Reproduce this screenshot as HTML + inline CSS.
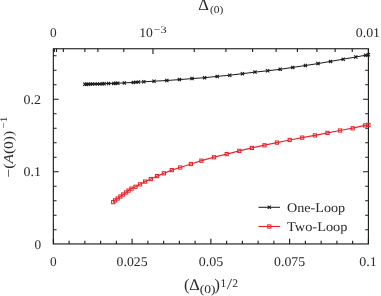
<!DOCTYPE html><html><head><meta charset="utf-8"><style>html,body{margin:0;padding:0;background:#fff}svg{display:block}text{font-family:"Liberation Serif",serif;fill:#2a2a2a;text-rendering:geometricPrecision}</style></head><body>
<svg width="381" height="296" viewBox="0 0 381 296">
<defs><filter id="b" x="0" y="0" width="381" height="296" filterUnits="userSpaceOnUse"><feGaussianBlur stdDeviation="0.35"/></filter></defs>
<rect width="381" height="296" fill="#fff"/>
<g filter="url(#b)">
<g stroke="#1a1a1a" stroke-width="1.1" fill="none">
<rect x="53.35" y="48.75" width="315.05" height="195.20"/>
<path d="M53.35 243.95V238.64999999999998"/>
<path d="M69.10 243.95V240.75"/>
<path d="M84.85 243.95V240.75"/>
<path d="M100.61 243.95V240.75"/>
<path d="M116.36 243.95V240.75"/>
<path d="M132.11 243.95V238.64999999999998"/>
<path d="M147.86 243.95V240.75"/>
<path d="M163.62 243.95V240.75"/>
<path d="M179.37 243.95V240.75"/>
<path d="M195.12 243.95V240.75"/>
<path d="M210.87 243.95V238.64999999999998"/>
<path d="M226.63 243.95V240.75"/>
<path d="M242.38 243.95V240.75"/>
<path d="M258.13 243.95V240.75"/>
<path d="M273.88 243.95V240.75"/>
<path d="M289.64 243.95V238.64999999999998"/>
<path d="M305.39 243.95V240.75"/>
<path d="M321.14 243.95V240.75"/>
<path d="M336.89 243.95V240.75"/>
<path d="M352.65 243.95V240.75"/>
<path d="M368.40 243.95V238.64999999999998"/>
<path d="M53.35 229.80h3.2M368.4 229.80h-3.2"/>
<path d="M53.35 215.30h3.2M368.4 215.30h-3.2"/>
<path d="M53.35 200.80h3.2M368.4 200.80h-3.2"/>
<path d="M53.35 186.30h3.2M368.4 186.30h-3.2"/>
<path d="M53.35 171.80h5.3M368.4 171.80h-5.3"/>
<path d="M53.35 157.30h3.2M368.4 157.30h-3.2"/>
<path d="M53.35 142.80h3.2M368.4 142.80h-3.2"/>
<path d="M53.35 128.30h3.2M368.4 128.30h-3.2"/>
<path d="M53.35 113.80h3.2M368.4 113.80h-3.2"/>
<path d="M53.35 99.30h5.3M368.4 99.30h-5.3"/>
<path d="M53.35 84.80h3.2M368.4 84.80h-3.2"/>
<path d="M53.35 70.30h3.2M368.4 70.30h-3.2"/>
<path d="M53.35 55.80h3.2M368.4 55.80h-3.2"/>
<path d="M54.35 48.75v3.2"/>
<path d="M56.50 48.75v3.2"/>
<path d="M63.31 48.75v3.2"/>
<path d="M84.85 48.75v3.2"/>
<path d="M97.90 48.75v3.2"/>
<path d="M123.80 48.75v3.2"/>
<path d="M152.98 48.75v5.3"/>
<path d="M194.24 48.75v3.2"/>
<path d="M225.91 48.75v3.2"/>
<path d="M252.61 48.75v3.2"/>
<path d="M276.12 48.75v3.2"/>
<path d="M297.39 48.75v3.2"/>
<path d="M316.94 48.75v3.2"/>
<path d="M335.14 48.75v3.2"/>
<path d="M352.23 48.75v3.2"/>
<path d="M368.40 48.75v5.3"/>
</g>
<g stroke="#1a1a1a" stroke-width="1" fill="none">
<polyline points="84.8,84.3 86.5,84.3 88.5,84.2 90.5,84.1 92.6,84.1 94.9,84.0 97.4,83.9 99.9,83.9 102.3,83.8 104.1,83.7 108.6,83.5 113.8,83.4 115.7,83.3 117.8,83.2 124.3,82.9 133.3,82.4 135.9,82.3 138.3,82.1 143.8,81.8 154.0,81.2 166.8,80.5 179.4,79.6 192.0,78.6 204.6,77.7 217.2,76.4 229.8,75.2 242.4,73.7 255.0,72.1 267.6,70.8 280.2,69.3 292.8,67.4 305.4,65.5 318.0,63.6 330.6,61.4 343.2,59.2 355.8,57.0 365.6,55.2 368.4,54.8"/>
<path d="M83.2 82.7l3.2 3.2M83.2 85.9l3.2 -3.2M84.9 82.7l3.2 3.2M84.9 85.9l3.2 -3.2M86.9 82.6l3.2 3.2M86.9 85.8l3.2 -3.2M88.9 82.5l3.2 3.2M88.9 85.7l3.2 -3.2M91.0 82.5l3.2 3.2M91.0 85.7l3.2 -3.2M93.3 82.4l3.2 3.2M93.3 85.6l3.2 -3.2M95.8 82.3l3.2 3.2M95.8 85.5l3.2 -3.2M98.3 82.3l3.2 3.2M98.3 85.5l3.2 -3.2M100.7 82.2l3.2 3.2M100.7 85.4l3.2 -3.2M102.5 82.1l3.2 3.2M102.5 85.3l3.2 -3.2M107.0 81.9l3.2 3.2M107.0 85.1l3.2 -3.2M112.2 81.8l3.2 3.2M112.2 85.0l3.2 -3.2M114.1 81.7l3.2 3.2M114.1 84.9l3.2 -3.2M116.2 81.6l3.2 3.2M116.2 84.8l3.2 -3.2M122.7 81.3l3.2 3.2M122.7 84.5l3.2 -3.2M131.7 80.8l3.2 3.2M131.7 84.0l3.2 -3.2M134.3 80.7l3.2 3.2M134.3 83.9l3.2 -3.2M136.7 80.5l3.2 3.2M136.7 83.7l3.2 -3.2M142.2 80.2l3.2 3.2M142.2 83.4l3.2 -3.2M152.4 79.7l3.2 3.2M152.4 82.8l3.2 -3.2M165.2 78.9l3.2 3.2M165.2 82.1l3.2 -3.2M177.8 78.0l3.2 3.2M177.8 81.2l3.2 -3.2M190.4 77.0l3.2 3.2M190.4 80.2l3.2 -3.2M203.0 76.1l3.2 3.2M203.0 79.3l3.2 -3.2M215.6 74.8l3.2 3.2M215.6 78.0l3.2 -3.2M228.2 73.6l3.2 3.2M228.2 76.8l3.2 -3.2M240.8 72.1l3.2 3.2M240.8 75.3l3.2 -3.2M253.4 70.5l3.2 3.2M253.4 73.7l3.2 -3.2M266.0 69.2l3.2 3.2M266.0 72.4l3.2 -3.2M278.6 67.7l3.2 3.2M278.6 70.9l3.2 -3.2M291.2 65.8l3.2 3.2M291.2 69.0l3.2 -3.2M303.8 63.9l3.2 3.2M303.8 67.1l3.2 -3.2M316.4 62.0l3.2 3.2M316.4 65.2l3.2 -3.2M329.0 59.8l3.2 3.2M329.0 63.0l3.2 -3.2M341.6 57.6l3.2 3.2M341.6 60.8l3.2 -3.2M354.2 55.4l3.2 3.2M354.2 58.6l3.2 -3.2M364.0 53.6l3.2 3.2M364.0 56.8l3.2 -3.2M366.8 53.1l3.2 3.2M366.8 56.4l3.2 -3.2" stroke-width="1.15"/>
</g>
<g stroke="#e8282f" stroke-width="1.2" fill="none">
<polyline points="113.2,202.1 115.1,200.3 117.7,198.5 120.4,196.5 123.1,194.5 126.1,192.5 128.6,190.6 131.5,188.6 135.5,186.8 140.0,184.3 145.1,181.6 150.8,179.0 157.1,176.1 163.9,173.2 171.8,170.1 180.2,167.5 190.9,164.0 201.4,160.7 214.0,157.2 226.7,154.1 239.3,150.9 251.9,147.9 264.5,145.2 277.0,142.6 289.7,140.0 302.2,137.6 314.9,135.3 327.5,132.9 340.0,130.5 352.7,128.2 365.0,125.4 368.4,124.9"/>
<rect x="111.6" y="200.5" width="3.2" height="3.2" stroke-width="1.05"/>
<rect x="113.5" y="198.8" width="3.2" height="3.2" stroke-width="1.05"/>
<rect x="116.1" y="196.9" width="3.2" height="3.2" stroke-width="1.05"/>
<rect x="118.8" y="194.9" width="3.2" height="3.2" stroke-width="1.05"/>
<rect x="121.5" y="192.9" width="3.2" height="3.2" stroke-width="1.05"/>
<rect x="124.5" y="190.9" width="3.2" height="3.2" stroke-width="1.05"/>
<rect x="127.0" y="189.0" width="3.2" height="3.2" stroke-width="1.05"/>
<rect x="129.9" y="187.0" width="3.2" height="3.2" stroke-width="1.05"/>
<rect x="133.9" y="185.2" width="3.2" height="3.2" stroke-width="1.05"/>
<rect x="138.4" y="182.8" width="3.2" height="3.2" stroke-width="1.05"/>
<rect x="143.5" y="180.0" width="3.2" height="3.2" stroke-width="1.05"/>
<rect x="149.2" y="177.4" width="3.2" height="3.2" stroke-width="1.05"/>
<rect x="155.5" y="174.5" width="3.2" height="3.2" stroke-width="1.05"/>
<rect x="162.3" y="171.7" width="3.2" height="3.2" stroke-width="1.05"/>
<rect x="170.2" y="168.5" width="3.2" height="3.2" stroke-width="1.05"/>
<rect x="178.6" y="165.9" width="3.2" height="3.2" stroke-width="1.05"/>
<rect x="189.3" y="162.4" width="3.2" height="3.2" stroke-width="1.05"/>
<rect x="199.8" y="159.1" width="3.2" height="3.2" stroke-width="1.05"/>
<rect x="212.4" y="155.7" width="3.2" height="3.2" stroke-width="1.05"/>
<rect x="225.1" y="152.5" width="3.2" height="3.2" stroke-width="1.05"/>
<rect x="237.7" y="149.3" width="3.2" height="3.2" stroke-width="1.05"/>
<rect x="250.3" y="146.3" width="3.2" height="3.2" stroke-width="1.05"/>
<rect x="262.9" y="143.7" width="3.2" height="3.2" stroke-width="1.05"/>
<rect x="275.4" y="141.0" width="3.2" height="3.2" stroke-width="1.05"/>
<rect x="288.1" y="138.4" width="3.2" height="3.2" stroke-width="1.05"/>
<rect x="300.6" y="136.0" width="3.2" height="3.2" stroke-width="1.05"/>
<rect x="313.3" y="133.8" width="3.2" height="3.2" stroke-width="1.05"/>
<rect x="325.9" y="131.3" width="3.2" height="3.2" stroke-width="1.05"/>
<rect x="338.4" y="128.9" width="3.2" height="3.2" stroke-width="1.05"/>
<rect x="351.1" y="126.7" width="3.2" height="3.2" stroke-width="1.05"/>
<rect x="363.4" y="123.8" width="3.2" height="3.2" stroke-width="1.05"/>
<rect x="366.8" y="123.3" width="3.2" height="3.2" stroke-width="1.05"/>
</g>
<g stroke="#1a1a1a" stroke-width="1" fill="none"><path d="M258.5 207.3H280"/>
<path stroke-width="1.05" d="M267.7 205.7l3.2 3.2M267.7 208.9l3.2 -3.2"/></g>
<g stroke="#e8282f" stroke-width="1.2" fill="none"><path d="M258.5 226.5H280"/><rect x="267.7" y="224.9" width="3.2" height="3.2" stroke-width="1.05"/></g>
<text x="287.0" y="212.3" font-size="13.3" textLength="58.2" lengthAdjust="spacingAndGlyphs">One-Loop</text>
<text x="287.0" y="230.8" font-size="13.3" textLength="60.5" lengthAdjust="spacingAndGlyphs">Two-Loop</text>
<text x="53.4" y="265.5" font-size="13.3" text-anchor="middle">0</text>
<text x="132.1" y="265.5" font-size="13.3" text-anchor="middle" textLength="31" lengthAdjust="spacingAndGlyphs">0.025</text>
<text x="210.9" y="265.5" font-size="13.3" text-anchor="middle" textLength="24.5" lengthAdjust="spacingAndGlyphs">0.05</text>
<text x="289.6" y="265.5" font-size="13.3" text-anchor="middle" textLength="31" lengthAdjust="spacingAndGlyphs">0.075</text>
<text x="367.9" y="265.5" font-size="13.3" text-anchor="middle" textLength="17.5" lengthAdjust="spacingAndGlyphs">0.1</text>
<text x="41.2" y="248.5" font-size="13.3" text-anchor="end">0</text>
<text x="41.0" y="176.10000000000002" font-size="13.3" text-anchor="end" textLength="17.5" lengthAdjust="spacingAndGlyphs">0.1</text>
<text x="41.0" y="103.60000000000001" font-size="13.3" text-anchor="end" textLength="17.5" lengthAdjust="spacingAndGlyphs">0.2</text>
<text x="53.4" y="37.4" font-size="13.3" text-anchor="middle">0</text>
<text x="367.9" y="37.4" font-size="13.3" text-anchor="middle" textLength="24.3" lengthAdjust="spacingAndGlyphs">0.01</text>
<text x="139.2" y="37.4" font-size="13.3" textLength="13.6" lengthAdjust="spacingAndGlyphs">10</text>
<text x="153.4" y="32.6" font-size="10" textLength="13.2" lengthAdjust="spacingAndGlyphs">−3</text>
<text x="198.2" y="9.5" font-size="16.5">Δ</text>
<text x="209.9" y="12.5" font-size="10.4" textLength="13.4" lengthAdjust="spacingAndGlyphs">(0)</text>
<text x="183.9" y="290.0" font-size="16.3">(Δ</text>
<text x="199.7" y="292.9" font-size="11.5" textLength="15.7" lengthAdjust="spacingAndGlyphs">(0)</text>
<text x="214.6" y="290.0" font-size="16.3">)</text>
<text x="220.6" y="287.0" font-size="11.6">1</text>
<text x="232.2" y="287.0" font-size="11.6">2</text>
<path d="M227.2 289.2L231.7 278.9" stroke="#2a2a2a" stroke-width="0.85" fill="none"/>
<g transform="translate(13.1,177.5) rotate(-90)">
<text x="0" y="0" font-size="13.6" transform="scale(1.14,1)">−(<tspan style="font-style:italic">A</tspan>(0))</text>
<text x="48.9" y="-6.4" font-size="10" textLength="11.8" lengthAdjust="spacingAndGlyphs">−1</text>
</g>
</g>
</svg></body></html>
